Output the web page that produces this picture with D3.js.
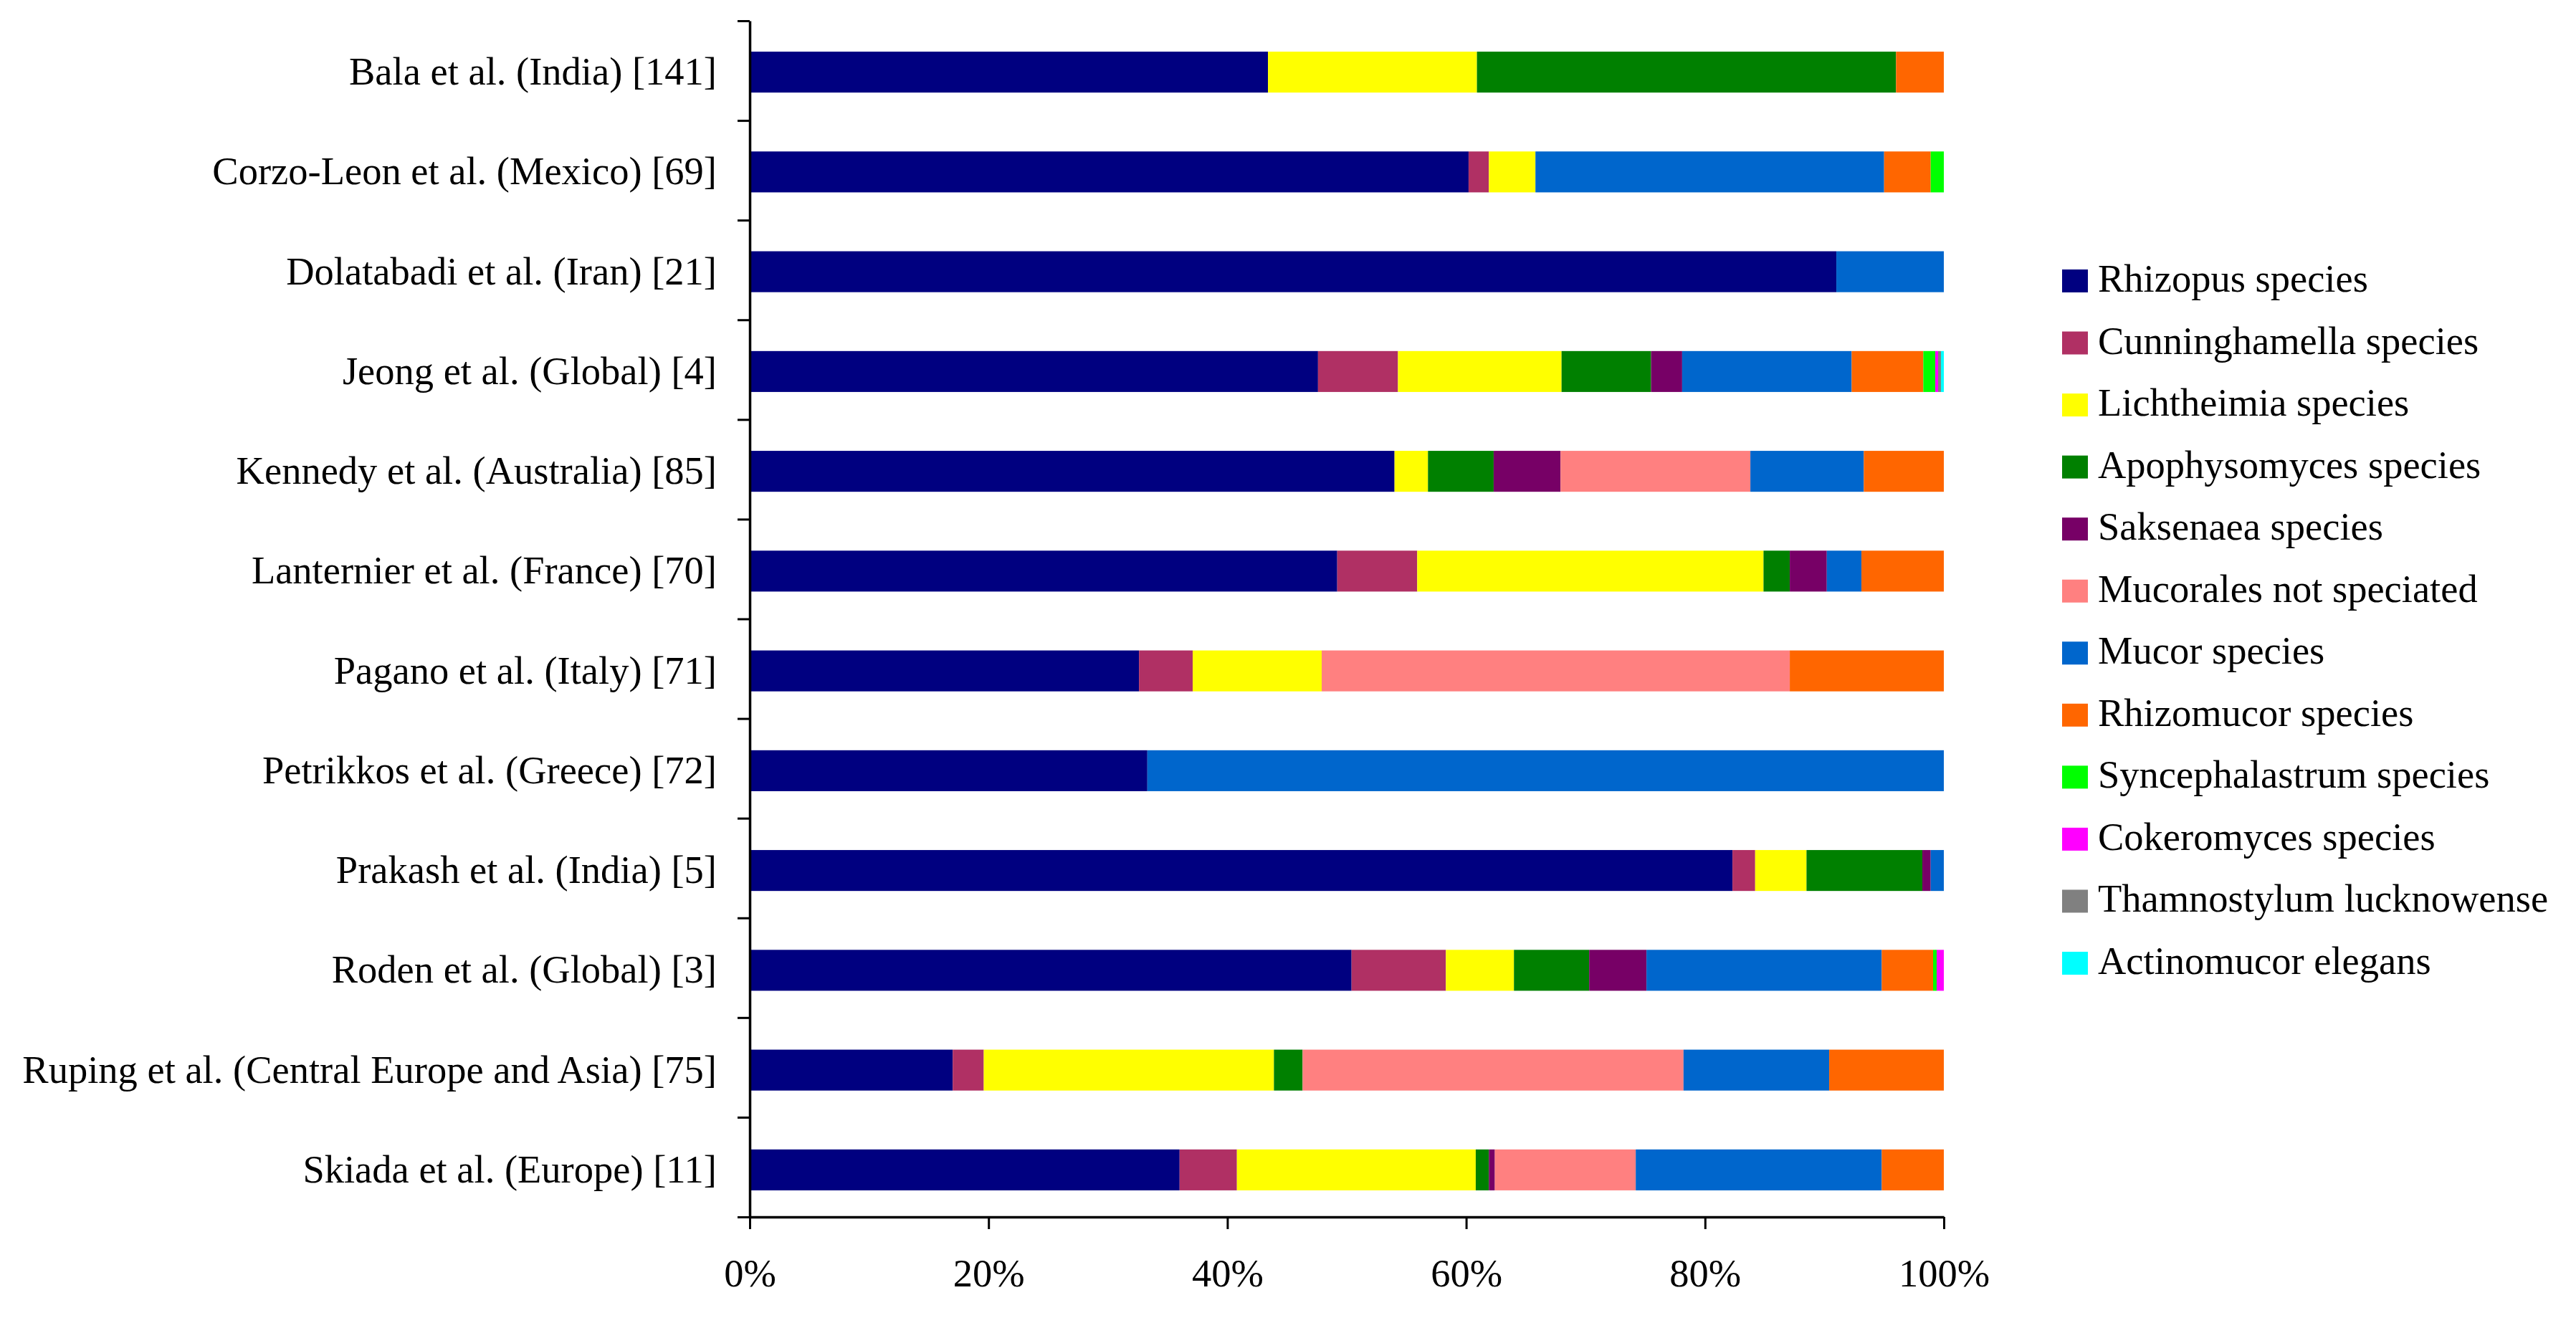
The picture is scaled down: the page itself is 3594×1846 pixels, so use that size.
<!DOCTYPE html>
<html>
<head>
<meta charset="utf-8">
<script src="https://cdn.jsdelivr.net/npm/d3@7"></script>
<style>
    html, body { margin: 0; padding: 0; background: #fff; }
    svg { display: block; }
    text { font-family: "Liberation Serif", "Times New Roman", serif; fill: #000; }
</style>
</head>
<body>
<svg id="chart"></svg>
<script>
'use strict';

// studies, top to bottom
const studies = [
    'Bala et al. (India) [141]',
    'Corzo-Leon et al. (Mexico) [69]',
    'Dolatabadi et al. (Iran) [21]',
    'Jeong et al. (Global) [4]',
    'Kennedy et al. (Australia) [85]',
    'Lanternier et al. (France) [70]',
    'Pagano et al. (Italy) [71]',
    'Petrikkos et al. (Greece) [72]',
    'Prakash et al. (India) [5]',
    'Roden et al. (Global) [3]',
    'Ruping et al. (Central Europe and Asia) [75]',
    'Skiada et al. (Europe) [11]'
];

const species = [
    'Rhizopus species',
    'Cunninghamella species',
    'Lichtheimia species',
    'Apophysomyces species',
    'Saksenaea species',
    'Mucorales not speciated',
    'Mucor species',
    'Rhizomucor species',
    'Syncephalastrum species',
    'Cokeromyces species',
    'Thamnostylum lucknowense',
    'Actinomucor elegans'
];

const species_colors = [
    '#000080', '#b03064', '#ffff00', '#008000', '#770066', '#ff8080',
    '#0066cc', '#ff6600', '#00ff00', '#ff00ff', '#808080', '#00ffff'
];

// percent of isolates per study (same order as studies)
const rhizopus        = [43.4, 60.2, 91.0, 47.6, 54.0, 49.2, 32.6, 33.3, 82.3, 50.4, 17.0, 36.0];
const cunninghamella  = [0, 1.7, 0, 6.7, 0, 6.7, 4.5, 0, 1.9, 7.9, 2.6, 4.8];
const lichtheimia     = [17.5, 3.9, 0, 13.7, 2.8, 29.0, 10.8, 0, 4.3, 5.7, 24.3, 20.0];
const apophysomyces   = [35.1, 0, 0, 7.5, 5.5, 2.2, 0, 0, 9.7, 6.3, 2.4, 1.1];
const saksenaea       = [0, 0, 0, 2.6, 5.6, 3.1, 0, 0, 0.7, 4.8, 0, 0.5];
const mucorales_ns    = [0, 0, 0, 0, 15.9, 0, 39.2, 0, 0, 0, 31.9, 11.8];
const mucor           = [0, 29.2, 9.0, 14.2, 9.5, 2.9, 0, 66.7, 1.1, 19.7, 12.2, 20.6];
const rhizomucor      = [4.0, 3.9, 0, 6.0, 6.7, 6.9, 12.9, 0, 0, 4.3, 9.6, 5.2];
const syncephalastrum = [0, 1.1, 0, 1.0, 0, 0, 0, 0, 0, 0.3, 0, 0];
const cokeromyces     = [0, 0, 0, 0.24, 0, 0, 0, 0, 0, 0.6, 0, 0];
const thamnostylum    = [0, 0, 0, 0.24, 0, 0, 0, 0, 0, 0, 0, 0];
const actinomucor     = [0, 0, 0, 0.24, 0, 0, 0, 0, 0, 0, 0, 0];

const series_values = [
    rhizopus, cunninghamella, lichtheimia, apophysomyces, saksenaea, mucorales_ns,
    mucor, rhizomucor, syncephalastrum, cokeromyces, thamnostylum, actinomucor
];

const x_ticks = [0, 0.2, 0.4, 0.6, 0.8, 1];

const W = 3594, H = 1846;
const FONT_SIZE = 54.5;
const plot = { left: 1046, right: 2712, top: 29, bottom: 1698 };

const svg = d3.select('#chart').attr('width', W).attr('height', H);
svg.append('rect').attr('width', W).attr('height', H).attr('fill', '#fff');

// one row per study, keyed by species name
const table = studies.map((s, i) => {
    const row = { study: s };
    species.forEach((sp, j) => { row[sp] = series_values[j][i]; });
    return row;
});

const stacked = d3.stack()
    .keys(species)
    .offset(d3.stackOffsetExpand)(table);

const x = d3.scaleLinear().domain([0, 1]).range([plot.left, plot.right]);

// bars sit a touch below the exact band centre in the original
const y = d3.scaleBand()
    .domain(studies)
    .range([plot.top + 2, plot.bottom + 4])
    .paddingInner(0.59)
    .paddingOuter(0.295);

const y_bounds = d3.scaleLinear().domain([0, studies.length]).range([plot.top, plot.bottom]);

const color = d3.scaleOrdinal().domain(species).range(species_colors);

// bars
svg.append('g')
    .selectAll('g')
    .data(stacked)
    .join('g')
    .attr('fill', d => color(d.key))
    .selectAll('rect')
    .data(d => d)
    .join('rect')
    .attr('x', d => x(d[0]))
    .attr('y', d => y(d.data.study))
    .attr('width', d => Math.max(0, x(d[1]) - x(d[0])))
    .attr('height', y.bandwidth());

// y axis: line + boundary ticks
const y_axis = svg.append('g')
    .attr('transform', `translate(${plot.left},0)`)
    .call(d3.axisLeft(y_bounds)
        .tickValues(d3.range(studies.length + 1))
        .tickFormat('')
        .tickSize(17)
        .tickSizeOuter(0));
y_axis.select('.domain').attr('stroke-width', 3.5);
y_axis.selectAll('.tick line').attr('stroke-width', 3);

// y labels at band centres
const y_labels = svg.append('g')
    .attr('transform', `translate(${plot.left},0)`)
    .call(d3.axisLeft(y).tickSize(0).tickPadding(46));
y_labels.select('.domain').remove();
y_labels.selectAll('text')
    .attr('font-size', FONT_SIZE)
    .attr('font-family', '"Liberation Serif", "Times New Roman", serif');

// x axis
const x_axis = svg.append('g')
    .attr('transform', `translate(0,${plot.bottom})`)
    .call(d3.axisBottom(x)
        .tickValues(x_ticks)
        .tickFormat(d3.format('.0%'))
        .tickSize(17)
        .tickSizeOuter(0)
        .tickPadding(41));
x_axis.select('.domain').attr('stroke-width', 3.5);
x_axis.selectAll('.tick line').attr('stroke-width', 3);
x_axis.selectAll('text')
    .attr('font-size', FONT_SIZE)
    .attr('font-family', '"Liberation Serif", "Times New Roman", serif');

// legend
const legend_row = d3.scaleLinear().domain([0, species.length - 1]).range([376, 1328]);

const legend = svg.append('g')
    .selectAll('g')
    .data(species)
    .join('g')
    .attr('transform', (d, i) => `translate(2877,${legend_row(i)})`);

legend.append('rect')
    .attr('width', 36)
    .attr('height', 32)
    .attr('fill', d => color(d));

legend.append('text')
    .attr('x', 50)
    .attr('y', 31)
    .attr('font-size', FONT_SIZE)
    .text(d => d);
</script>
</body>
</html>
